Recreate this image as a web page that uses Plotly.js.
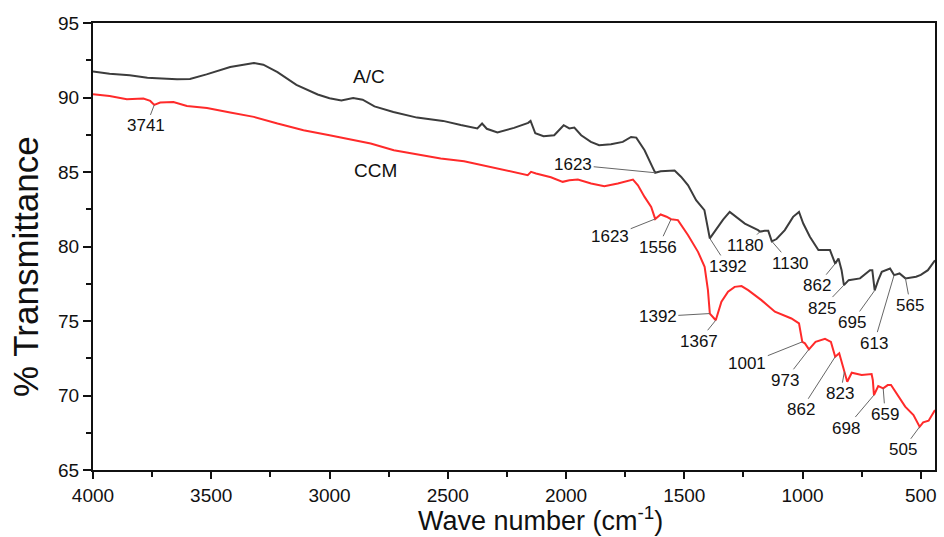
<!DOCTYPE html>
<html>
<head>
<meta charset="utf-8">
<script src="https://cdn.plot.ly/plotly-3.0.1.min.js"></script>
<style>html,body{margin:0;padding:0;background:#fff;}#chart{width:944px;height:537px;}</style>
</head>
<body>
<div id="chart"></div>
<script>
// A/C spectrum
const acWn = [4000,3930,3845,3770,3730,3690,3645,3590,3520,3420,3320,3280,3220,3140,3050,3000,2950,2900,2860,2810,2730,2630,2520,2445,2375,2355,2335,2290,2220,2160,2150,2130,2095,2050,2025,2010,1986,1965,1936,1895,1860,1810,1760,1725,1703,1668,1635,1623,1600,1570,1541,1513,1484,1450,1415,1392,1360,1336,1308,1280,1244,1188,1180,1160,1145,1130,1110,1075,1040,1015,997,969,933,884,862,848,835,825,805,757,715,705,695,680,665,630,613,590,565,520,500,470,440];
const acT  = [91.75,91.6,91.5,91.32,91.3,91.25,91.22,91.25,91.55,92.05,92.32,92.2,91.7,90.85,90.2,89.95,89.8,89.97,89.85,89.4,89.03,88.65,88.43,88.15,87.92,88.25,87.9,87.65,87.96,88.3,88.43,87.6,87.4,87.47,87.9,88.14,87.92,87.98,87.47,87.02,86.8,86.86,87.02,87.35,87.31,86.46,85.34,84.95,85.05,85.1,85.1,84.67,84.11,83.11,82.44,80.54,81.3,81.8,82.32,82.0,81.54,81.1,81.0,81.05,81.05,80.35,80.5,81.1,81.99,82.32,81.54,80.65,79.76,79.76,78.85,79.2,78.41,77.41,77.74,77.86,78.41,78.41,77.05,77.74,78.3,78.52,78.08,78.19,77.86,77.97,78.1,78.41,79.08];
// CCM spectrum
const ccmWn = [4000,3930,3857,3787,3758,3741,3716,3660,3603,3518,3420,3320,3220,3110,3000,2925,2826,2728,2614,2530,2431,2332,2247,2162,2148,2127,2064,2014,1986,1950,1894,1838,1781,1717,1696,1668,1640,1623,1600,1575,1556,1527,1484,1442,1414,1400,1392,1367,1343,1315,1287,1258,1230,1174,1117,1089,1047,1015,1005,1001,990,973,945,905,880,862,845,823,811,792,750,708,703,698,680,659,640,626,594,566,531,505,490,467,440];
const ccmT  = [90.22,90.1,89.88,89.93,89.77,89.5,89.66,89.7,89.43,89.3,88.99,88.7,88.25,87.8,87.47,87.25,86.91,86.46,86.13,85.9,85.72,85.39,85.12,84.79,85.01,84.9,84.65,84.34,84.45,84.49,84.23,84.05,84.23,84.49,84.11,83.33,82.66,81.85,82.15,82.0,81.83,81.77,80.76,79.64,78.64,77.07,75.5,75.05,76.29,76.96,77.29,77.34,77.07,76.4,75.62,75.46,75.17,74.84,74.05,73.6,73.5,73.1,73.6,73.8,73.6,72.6,72.83,71.6,70.92,71.53,71.37,71.44,71.04,70.03,70.63,70.48,70.7,70.7,69.92,69.25,68.69,67.9,68.2,68.31,69.02];

// Peak labels and their text offsets (px) from the marked point
const acPeaks  = [1623,1392,1180,1130,862,825,695,613,565];
const acOff    = [[-82,-8],[18,28],[-14,14],[19,22],[-18,22],[-22,23],[-23,32],[-20,68],[5,27]];
const ccmPeaks = [3741,1623,1556,1392,1367,1001,973,862,823,698,659,505];
const ccmOff   = [[-8,21],[-45,18],[-13,28],[-52,3],[-17,21],[-55,22],[-24,31],[-34,53],[-4,22],[-28,33],[2,26],[-17,23]];

function interp(xs, ys, x){
  for(let i=0;i<xs.length-1;i++){
    const a=xs[i], b=xs[i+1];
    if((x<=a && x>=b)||(x>=a && x<=b)){
      const t=(x-a)/(b-a); return ys[i]+t*(ys[i+1]-ys[i]);
    }
  }
  return ys[ys.length-1];
}

const FAM = 'Arial, "Liberation Sans", sans-serif';
const annFont = {family:FAM, size:17, color:'#111'};
const annotations = [];
function addPeaks(wn, t, peaks, offs){
  peaks.forEach((p,i)=>{
    annotations.push({x:p, y:interp(wn,t,p), xref:'x', yref:'y', text:String(p),
      showarrow:true, arrowhead:0, arrowwidth:1, arrowcolor:'#666', standoff:0,
      ax:offs[i][0], ay:offs[i][1], font:annFont});
  });
}
addPeaks(acWn, acT, acPeaks, acOff);
addPeaks(ccmWn, ccmT, ccmPeaks, ccmOff);
annotations.push({x:2835, y:91.4, xref:'x', yref:'y', text:'A/C', showarrow:false, font:{family:FAM, size:19, color:'#111'}});
annotations.push({x:2805, y:85.1, xref:'x', yref:'y', text:'CCM', showarrow:false, font:{family:FAM, size:19, color:'#111'}});
// axis titles
annotations.push({xref:'paper', yref:'paper', x:0.531, y:-0.1499, xanchor:'center', yanchor:'bottom', borderpad:0,
  text:'Wave number (cm<sup>-1</sup>)', showarrow:false, font:{family:FAM, size:27, color:'#111'}});
annotations.push({xref:'paper', yref:'paper', x:-0.081, y:0.456, xanchor:'center', yanchor:'middle', textangle:-90, borderpad:0,
  text:'% Transmittance', showarrow:false, font:{family:FAM, size:35, color:'#111'}});

const traces = [
  {x:acWn, y:acT, type:'scatter', mode:'lines', name:'A/C', line:{color:'#3c3c3c', width:2}},
  {x:ccmWn, y:ccmT, type:'scatter', mode:'lines', name:'CCM', line:{color:'#ff2a2a', width:2}}
];

const tickFont = {family:FAM, size:19, color:'#111'};
const layout = {
  width:944, height:537,
  margin:{l:93, r:9, t:23, b:67},
  paper_bgcolor:'#fff', plot_bgcolor:'#fff',
  showlegend:false,
  xaxis:{range:[4000,440], tick0:500, dtick:500, ticks:'outside', ticklen:7, tickwidth:2, tickcolor:'#111',
    showline:true, linewidth:2, linecolor:'#111', mirror:true, showgrid:false, zeroline:false,
    minor:{dtick:250, ticks:'outside', ticklen:5, tickwidth:2, tickcolor:'#111', showgrid:false},
    tickfont:tickFont},
  yaxis:{range:[65,95], tick0:65, dtick:5, ticks:'outside', ticklen:8, tickwidth:2, tickcolor:'#111',
    showline:true, linewidth:2, linecolor:'#111', mirror:true, showgrid:false, zeroline:false,
    minor:{dtick:2.5, ticks:'outside', ticklen:5, tickwidth:2, tickcolor:'#111', showgrid:false},
    tickfont:tickFont},
  annotations:annotations
};
Plotly.newPlot('chart', traces, layout, {displayModeBar:false, staticPlot:true});
</script>
</body>
</html>
